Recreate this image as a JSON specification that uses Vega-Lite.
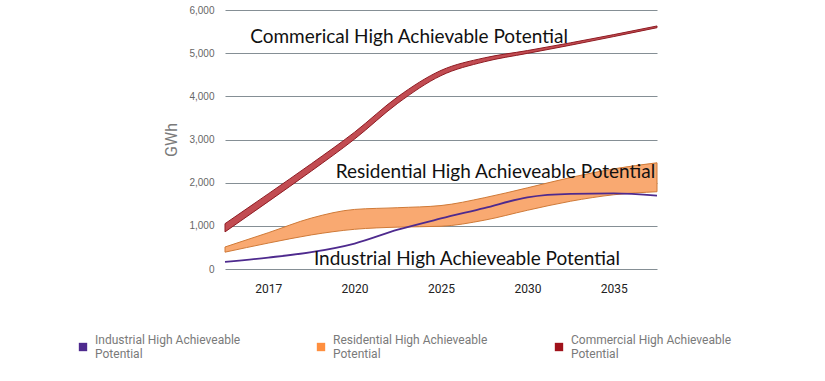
{
  "$schema": "https://vega.github.io/schema/vega-lite/v6.json",
  "autosize": {"type": "none"},
  "padding": {"left": 225, "top": 10, "right": 168, "bottom": 112},
  "width": 432,
  "height": 259,
  "background": "white",
  "config": {"view": {"stroke": null}},
  "datasets": {
    "bands": [
      {"series": "Commercial High Achieveable Potential", "t": 0, "low": 860, "high": 1050},
      {"series": "Commercial High Achieveable Potential", "t": 0.5, "low": 1560, "high": 1740},
      {"series": "Commercial High Achieveable Potential", "t": 1, "low": 2270, "high": 2440},
      {"series": "Commercial High Achieveable Potential", "t": 1.5, "low": 3010, "high": 3170},
      {"series": "Commercial High Achieveable Potential", "t": 2, "low": 3840, "high": 3990},
      {"series": "Commercial High Achieveable Potential", "t": 2.5, "low": 4480, "high": 4600},
      {"series": "Commercial High Achieveable Potential", "t": 3, "low": 4800, "high": 4890},
      {"series": "Commercial High Achieveable Potential", "t": 3.5, "low": 4995, "high": 5060},
      {"series": "Commercial High Achieveable Potential", "t": 4, "low": 5185, "high": 5240},
      {"series": "Commercial High Achieveable Potential", "t": 4.5, "low": 5385, "high": 5430},
      {"series": "Commercial High Achieveable Potential", "t": 5, "low": 5590, "high": 5630},
      {"series": "Residential High Achieveable Potential", "t": 0, "low": 390, "high": 510},
      {"series": "Residential High Achieveable Potential", "t": 0.5, "low": 600, "high": 840},
      {"series": "Residential High Achieveable Potential", "t": 1, "low": 790, "high": 1180},
      {"series": "Residential High Achieveable Potential", "t": 1.5, "low": 920, "high": 1380},
      {"series": "Residential High Achieveable Potential", "t": 2, "low": 970, "high": 1420},
      {"series": "Residential High Achieveable Potential", "t": 2.5, "low": 990, "high": 1470},
      {"series": "Residential High Achieveable Potential", "t": 3, "low": 1130, "high": 1650},
      {"series": "Residential High Achieveable Potential", "t": 3.5, "low": 1360, "high": 1880},
      {"series": "Residential High Achieveable Potential", "t": 4, "low": 1570, "high": 2120},
      {"series": "Residential High Achieveable Potential", "t": 4.5, "low": 1720, "high": 2320},
      {"series": "Residential High Achieveable Potential", "t": 5, "low": 1790, "high": 2460}
    ],
    "industrial": [
      {"series": "Industrial High Achieveable Potential", "t": 0, "value": 165},
      {"series": "Industrial High Achieveable Potential", "t": 0.5, "value": 265},
      {"series": "Industrial High Achieveable Potential", "t": 1, "value": 390},
      {"series": "Industrial High Achieveable Potential", "t": 1.5, "value": 590},
      {"series": "Industrial High Achieveable Potential", "t": 2, "value": 910},
      {"series": "Industrial High Achieveable Potential", "t": 2.5, "value": 1170},
      {"series": "Industrial High Achieveable Potential", "t": 3, "value": 1410},
      {"series": "Industrial High Achieveable Potential", "t": 3.5, "value": 1660},
      {"series": "Industrial High Achieveable Potential", "t": 4, "value": 1740},
      {"series": "Industrial High Achieveable Potential", "t": 4.5, "value": 1750},
      {"series": "Industrial High Achieveable Potential", "t": 5, "value": 1700}
    ],
    "notes": [
      {"label": "Commerical High Achievable Potential", "t": 2.13, "value": 5374},
      {"label": "Residential High Achieveable Potential", "t": 3.13, "value": 2247},
      {"label": "Industrial High Achieveable Potential", "t": 2.8, "value": 232}
    ]
  },
  "encoding": {
    "x": {
      "type": "quantitative",
      "scale": {"domain": [0, 5], "nice": false, "zero": false},
      "axis": {
        "title": null,
        "values": [0.5, 1.5, 2.5, 3.5, 4.5],
        "labelExpr": "datum.value == 0.5 ? '2017' : datum.value == 1.5 ? '2020' : datum.value == 2.5 ? '2025' : datum.value == 3.5 ? '2030' : '2035'",
        "grid": false, "ticks": false, "domain": false,
        "labelFont": "Roboto", "labelFontSize": 12, "labelColor": "#222222",
        "labelPadding": 14
      }
    }
  },
  "layer": [
    {
      "data": {"name": "bands"},
      "transform": [{"filter": "datum.series == 'Commercial High Achieveable Potential'"}],
      "mark": {"type": "area", "interpolate": "monotone", "fill": "#c24c52", "stroke": "#8e1b22", "strokeWidth": 1, "fillOpacity": 1},
      "encoding": {
        "x": {"field": "t", "type": "quantitative"},
        "y": {
          "field": "low", "type": "quantitative",
          "scale": {"domain": [0, 6000], "nice": false},
          "axis": {
            "title": "GWh", "titleFont": "Roboto", "titleFontSize": 16, "titleFontWeight": "normal", "titleColor": "#7a7a7a", "titlePadding": 9,
            "values": [0, 1000, 2000, 3000, 4000, 5000, 6000],
            "labelExpr": "format(datum.value, ',.0f')",
            "grid": true, "gridColor": "#858f95", "gridWidth": 1, "domain": false, "ticks": false,
            "labelFont": "Liberation Sans", "labelFontSize": 10, "labelColor": "#666666", "labelPadding": 11
          }
        },
        "y2": {"field": "high"}
      }
    },
    {
      "data": {"name": "bands"},
      "transform": [{"filter": "datum.series == 'Residential High Achieveable Potential'"}],
      "mark": {"type": "area", "interpolate": "monotone", "fill": "#f9a971", "stroke": "#cf7a38", "strokeWidth": 1, "fillOpacity": 1},
      "encoding": {
        "x": {"field": "t", "type": "quantitative"},
        "y": {"field": "low", "type": "quantitative"},
        "y2": {"field": "high"}
      }
    },
    {
      "data": {"name": "industrial"},
      "mark": {"type": "line", "interpolate": "monotone", "strokeWidth": 1.8},
      "encoding": {
        "x": {"field": "t", "type": "quantitative"},
        "y": {"field": "value", "type": "quantitative"},
        "color": {
          "field": "series", "type": "nominal",
          "scale": {
            "domain": ["Industrial High Achieveable Potential", "Residential High Achieveable Potential", "Commercial High Achieveable Potential"],
            "range": ["#4e2a8e", "#ff8f3f", "#a0121b"]
          },
          "legend": {
            "title": null, "orient": "none", "direction": "horizontal", "columns": 3,
            "legendX": -148, "legendY": 331, "gridAlign": "all",
            "symbolType": "square", "symbolSize": 70,
            "labelFont": "Roboto", "labelFontSize": 12, "labelColor": "#7a7a7a",
            "labelExpr": "[replace(datum.label, ' Potential', ''), 'Potential']",
            "labelLimit": 300, "labelOffset": 6, "columnPadding": 59,
            "encode": {
              "symbols": {"update": {"fill": {"scale": "color", "field": "value"}, "fillOpacity": {"value": 1}, "strokeWidth": {"value": 0}}},
              "labels": {"update": {"dy": {"value": -7}}}
            }
          }
        }
      }
    },
    {
      "mark": {"type": "rule", "color": "#6f7a80", "strokeWidth": 1},
      "encoding": {"x": {"datum": 5}}
    },
    {
      "data": {"name": "notes"},
      "mark": {"type": "text", "font": "Lato", "fontSize": 19, "color": "#111111", "align": "center", "baseline": "middle"},
      "encoding": {
        "x": {"field": "t", "type": "quantitative"},
        "y": {"field": "value", "type": "quantitative"},
        "text": {"field": "label"}
      }
    }
  ]
}
